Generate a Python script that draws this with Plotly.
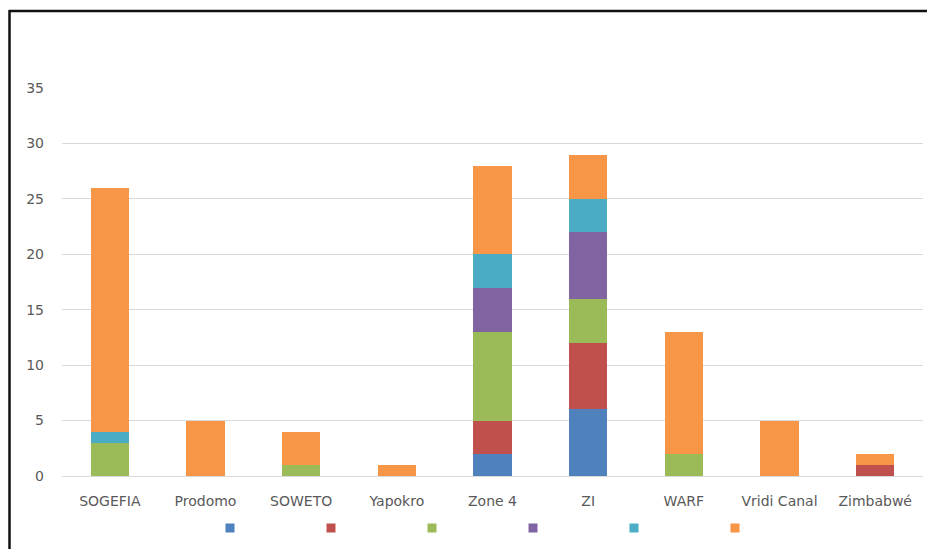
import plotly.graph_objects as go

categories = ["SOGEFIA", "Prodomo", "SOWETO", "Yapokro", "Zone 4", "ZI", "WARF", "Vridi Canal", "Zimbabwé"]
s_blue   = [0, 0, 0, 0, 2, 6, 0, 0, 0]
s_red    = [0, 0, 0, 0, 3, 6, 0, 0, 1]
s_green  = [3, 0, 1, 0, 8, 4, 2, 0, 0]
s_purple = [0, 0, 0, 0, 4, 6, 0, 0, 0]
s_teal   = [1, 0, 0, 0, 3, 3, 0, 0, 0]
s_orange = [22, 5, 3, 1, 8, 4, 11, 5, 1]
series = [s_blue, s_red, s_green, s_purple, s_teal, s_orange]
colors = ["#4f81bd", "#c0504d", "#9bbb59", "#8064a2", "#4bacc6", "#f79646"]
y_ticks = [0, 5, 10, 15, 20, 25, 30, 35]

W, H = 927, 549
ml, mr, mt, mb = 62, 4, 88, 73

fig = go.Figure()
for vals, col in zip(series, colors):
    fig.add_trace(go.Bar(x=categories, y=vals, marker=dict(color=col, line=dict(width=0)),
                         name=" ", width=0.4, showlegend=False))
    fig.add_trace(go.Scatter(x=[None], y=[None], mode="markers", name=" ",
                             marker=dict(symbol="square", size=9, color=col), showlegend=True))

pw = W - ml - mr
ph = H - mt - mb
def px_x(p): return (p - ml) / pw
def px_y(p): return (H - mb - p) / ph

fig.update_layout(
    width=W, height=H, barmode="stack",
    margin=dict(l=ml, r=mr, t=mt, b=mb, autoexpand=False),
    paper_bgcolor="white", plot_bgcolor="white",
    font=dict(family="DejaVu Sans", size=14, color="#595959"),
    xaxis=dict(showgrid=False, showline=True, linecolor="#d9d9d9", linewidth=1,
               ticks="", tickfont=dict(family="DejaVu Sans", size=14, color="#595959"),
               ticklabelstandoff=12),
    yaxis=dict(range=[0, 35], tickvals=y_ticks, showgrid=True, gridcolor="#d9d9d9",
               gridwidth=1, zeroline=False, ticks="", ticklabelstandoff=17,
               tickfont=dict(family="DejaVu Sans", size=14, color="#595959")),
    legend=dict(orientation="h", x=px_x(210), xanchor="left", y=px_y(528), yanchor="middle",
                entrywidth=56, entrywidthmode="pixels", itemwidth=30, traceorder="normal",
                font=dict(size=12), bgcolor="rgba(0,0,0,0)"),
    showlegend=True,
    shapes=[
        dict(type="line", xref="paper", yref="paper", x0=px_x(9), x1=px_x(930), y0=px_y(11), y1=px_y(11),
             line=dict(color="#111111", width=2.5)),
        dict(type="line", xref="paper", yref="paper", x0=px_x(9.5), x1=px_x(9.5), y0=px_y(10), y1=px_y(552),
             line=dict(color="#111111", width=2.5)),
    ],
)

fig.write_html("out.html")
